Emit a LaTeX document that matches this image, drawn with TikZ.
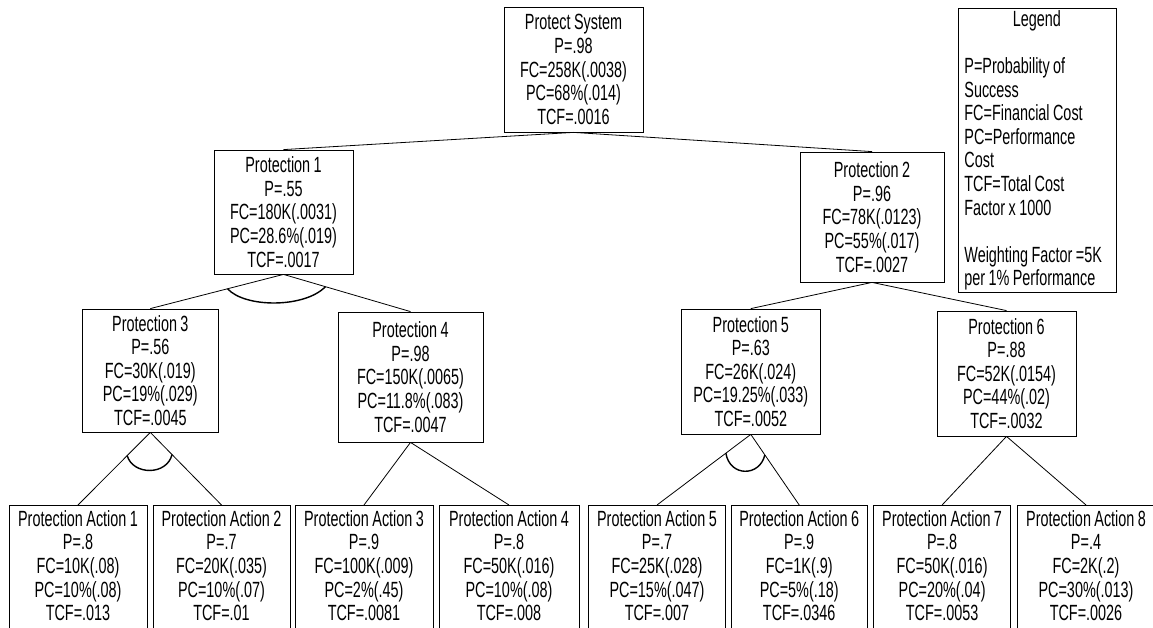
\documentclass[tikz,border=0pt]{standalone}
\usepackage{fontspec}
\setmainfont{Liberation Sans}[FakeStretch=0.655,WordSpace=0.85]
\begin{document}
\begin{tikzpicture}[x=1pt,y=-1pt,
  box/.style={draw, line width=0.8pt, inner sep=0pt, align=center, font=\fontsize{22}{23.6}\selectfont},
  abox/.style={box, anchor=north, inner xsep=0pt, inner ysep=5pt, text depth=115pt},
  link/.style={line width=0.8pt},
  andarc/.style={line width=1.4pt}]
\useasboundingbox (0,0) rectangle (1153,628);
\clip (0,0) rectangle (1153,628);
% top level
\node[box, minimum width=139pt, minimum height=125pt] (top) at (573.5,69.5)
  {Protect System\\P=.98\\FC=258K(.0038)\\PC=68\%(.014)\\TCF=.0016};
% legend
\node[draw, line width=0.8pt, anchor=north west, inner xsep=6.5pt, inner ysep=0pt,
  minimum width=158pt, minimum height=284pt, align=left, font=\fontsize{22}{23.6}\selectfont] (legend) at (957.5,8)
  {\makebox[145pt]{Legend}\\ \mbox{}\\ P=Probability of\\Success\\FC=Financial Cost\\PC=Performance\\Cost\\TCF=Total Cost\\Factor x 1000\\ \mbox{}\\ Weighting Factor =5K\\per 1\% Performance};
% second level
\node[box, minimum width=139pt, minimum height=124pt] (p1) at (283.5,212)
  {Protection 1\\P=.55\\FC=180K(.0031)\\PC=28.6\%(.019)\\TCF=.0017};
\node[box, minimum width=144pt, minimum height=130pt] (p2) at (872,217)
  {Protection 2\\P=.96\\FC=78K(.0123)\\PC=55\%(.017)\\TCF=.0027};
% third level
\node[box, minimum width=136.6pt, minimum height=123pt] (p3) at (150.3,370.5)
  {Protection 3\\P=.56\\FC=30K(.019)\\PC=19\%(.029)\\TCF=.0045};
\node[box, minimum width=145pt, minimum height=130pt] (p4) at (410.5,377)
  {Protection 4\\P=.98\\FC=150K(.0065)\\PC=11.8\%(.083)\\TCF=.0047};
\node[box, minimum width=138.5pt, minimum height=125pt] (p5) at (750.8,371.5)
  {Protection 5\\P=.63\\FC=26K(.024)\\PC=19.25\%(.033)\\TCF=.0052};
\node[box, minimum width=139pt, minimum height=125pt] (p6) at (1006.5,373.5)
  {Protection 6\\P=.88\\FC=52K(.0154)\\PC=44\%(.02)\\TCF=.0032};
% actions
\node[abox, minimum width=138pt] (pa1) at (78,505)
  {Protection Action 1\\P=.8\\FC=10K(.08)\\PC=10\%(.08)\\TCF=.013};
\node[abox, minimum width=137pt] (pa2) at (221.5,505)
  {Protection Action 2\\P=.7\\FC=20K(.035)\\PC=10\%(.07)\\TCF=.01};
\node[abox, minimum width=138pt] (pa3) at (364,505)
  {Protection Action 3\\P=.9\\FC=100K(.009)\\PC=2\%(.45)\\TCF=.0081};
\node[abox, minimum width=140pt] (pa4) at (509,505)
  {Protection Action 4\\P=.8\\FC=50K(.016)\\PC=10\%(.08)\\TCF=.008};
\node[abox, minimum width=137pt] (pa5) at (657,505)
  {Protection Action 5\\P=.7\\FC=25K(.028)\\PC=15\%(.047)\\TCF=.007};
\node[abox, minimum width=136.4pt] (pa6) at (799.2,505)
  {Protection Action 6\\P=.9\\FC=1K(.9)\\PC=5\%(.18)\\TCF=.0346};
\node[abox, minimum width=137pt] (pa7) at (942.1,505)
  {Protection Action 7\\P=.8\\FC=50K(.016)\\PC=20\%(.04)\\TCF=.0053};
\node[abox, minimum width=138pt] (pa8) at (1086,505)
  {Protection Action 8\\P=.4\\FC=2K(.2)\\PC=30\%(.013)\\TCF=.0026};
% connectors
\draw[link] (top.south) -- (p1.north);
\draw[link] (top.south) -- (p2.north);
\draw[link] (p1.south) -- coordinate[pos=0.42] (p1l) (p3.north);
\draw[link] (p1.south) -- coordinate[pos=0.33] (p1r) (p4.north);
\draw[andarc] (p1l) .. controls +(17.5,19.3) and +(-20.6,21.4) .. (p1r);
\draw[link] (p2.south) -- (p5.north);
\draw[link] (p2.south) -- (p6.north);
\draw[link] (p3.south) -- coordinate[pos=0.32] (p3l) (pa1.north);
\draw[link] (p3.south) -- coordinate[pos=0.305] (p3r) (pa2.north);
\draw[andarc] (p3l) .. controls +(6,20) and +(-5,21) .. (p3r);
\draw[link] (p4.south) -- (pa3.north);
\draw[link] (p4.south) -- (pa4.north);
\draw[link] (p5.south) -- coordinate[pos=0.266] (p5l) (pa5.north);
\draw[link] (p5.south) -- coordinate[pos=0.29] (p5r) (pa6.north);
\draw[andarc] (p5l) .. controls +(4,24) and +(-5,22) .. (p5r);
\draw[link] (p6.south) -- (pa7.north);
\draw[link] (p6.south) -- (pa8.north);
\end{tikzpicture}
\end{document}
